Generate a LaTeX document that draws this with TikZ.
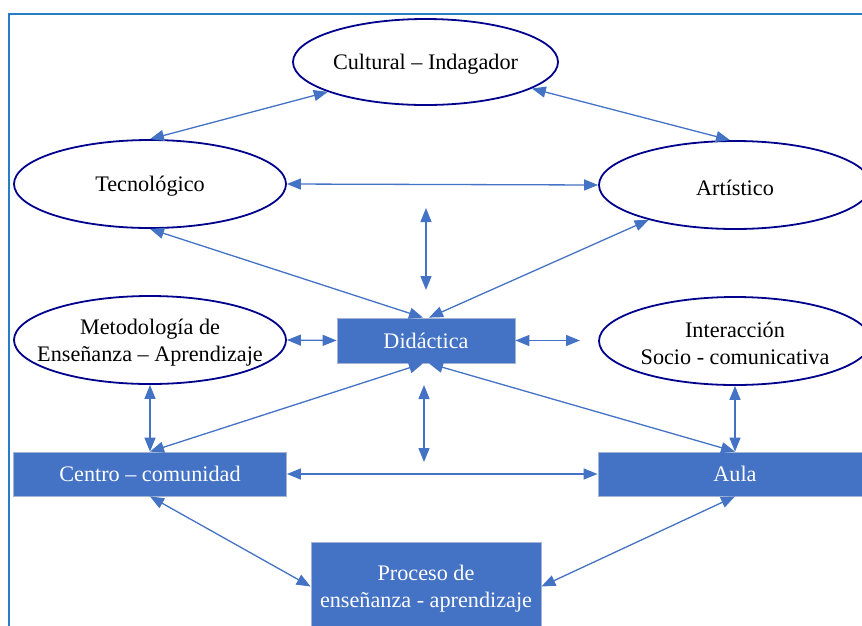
\documentclass[tikz,border=0pt]{standalone}
\usepackage{fontspec}
\setmainfont{Liberation Serif}
\usetikzlibrary{shapes.geometric,arrows.meta}
\definecolor{navyline}{RGB}{0,0,140}
\definecolor{accent}{RGB}{68,114,196}
\definecolor{boxedge}{RGB}{165,180,210}
\definecolor{frameblue}{RGB}{40,125,200}
\newcommand{\dfont}{\fontsize{22.2}{27}\selectfont}
\tikzset{
  oval/.style={ellipse, draw=navyline, line width=1.8pt, fill=white, inner sep=0pt,
    minimum width=272pt, minimum height=88pt},
  ovaltext/.style={align=center, text=black, font=\dfont, inner sep=0pt, yshift=-2.5pt},
  bluebox/.style={rectangle, draw=boxedge, line width=0.8pt, fill=accent, inner sep=0pt,
    align=center, text=white, font=\dfont},
  link/.style={draw=accent, line width=1.3pt, {Triangle[length=14pt,width=11pt]}-{Triangle[length=14pt,width=11pt]}},
}
\begin{document}
\begin{tikzpicture}[x=1pt,y=-1pt]
\useasboundingbox (0,0) rectangle (862,625);
\clip (0,0) rectangle (862,625);
\draw[frameblue, line width=1.5pt] (9,640) -- (9,14) -- (880,14);

% ellipses
\node[oval, minimum width=265pt, minimum height=86pt] (cult) at (425.5,62) {};
\node[ovaltext] (cultt) at (cult.center) {Cultural -- Indagador};
\node[oval] (tec) at (150,184) {};
\node[ovaltext] (tect) at (tec.center) {Tecnológico};
\node[oval] (art) at (735,185) {};
\node[ovaltext] (artt) at (art.center) {Artístico};
\node[oval] (met) at (150,340) {};
\node[ovaltext] (mett) at (met.center) {Metodología de\\Enseñanza -- Aprendizaje};
\node[oval] (int) at (735,341) {};
\node[ovaltext] (intt) at (int.center) {Interacción\\Socio - comunicativa};

% boxes
\node[bluebox, minimum width=178pt, minimum height=45pt] (did) at (426,340.5) {Didáctica};
\node[bluebox, minimum width=273pt, minimum height=44pt] (cen) at (150,474) {Centro -- comunidad};
\node[bluebox, minimum width=274pt, minimum height=44pt] (aula) at (735,474) {Aula};
\node[bluebox, minimum width=230pt, minimum height=89pt] (proc) at (426,586.5) {};
\node[align=center, text=white, font=\dfont, inner sep=0pt, yshift=-2pt] (proct) at (proc.center) {Proceso de\\enseñanza - aprendizaje};

% free ends
\coordinate (va) at (426,208);
\coordinate (vb) at (426,290);
\coordinate (wa) at (424,385);
\coordinate (wb) at (424,462);
\coordinate (hr) at (580,340.5);

% connectors
\draw[link] (cult.197) -- (tec.north);
\draw[link] (cult.346) -- ([xshift=-5pt]art.north);
\draw[link] (tec.east) -- (art.west);
\draw[link] (va) -- (vb);
\draw[link] (tec.south) -- ([xshift=-3pt]did.north);
\draw[link] (art.202) -- ([xshift=3pt]did.north);
\draw[link] (met.east) -- (did.west);
\draw[link] (did.east) -- (hr);
\draw[link] ([xshift=-3pt]did.south) -- (cen.north);
\draw[link] ([xshift=3pt]did.south) -- (aula.north);
\draw[link] (wa) -- (wb);
\draw[link] (cen.east) -- (aula.west);
\draw[link] (met.south) -- (cen.north);
\draw[link] (int.south) -- (aula.north);
\draw[link] (cen.south) -- (proc.west);
\draw[link] (aula.south) -- (proc.east);
\end{tikzpicture}
\end{document}
